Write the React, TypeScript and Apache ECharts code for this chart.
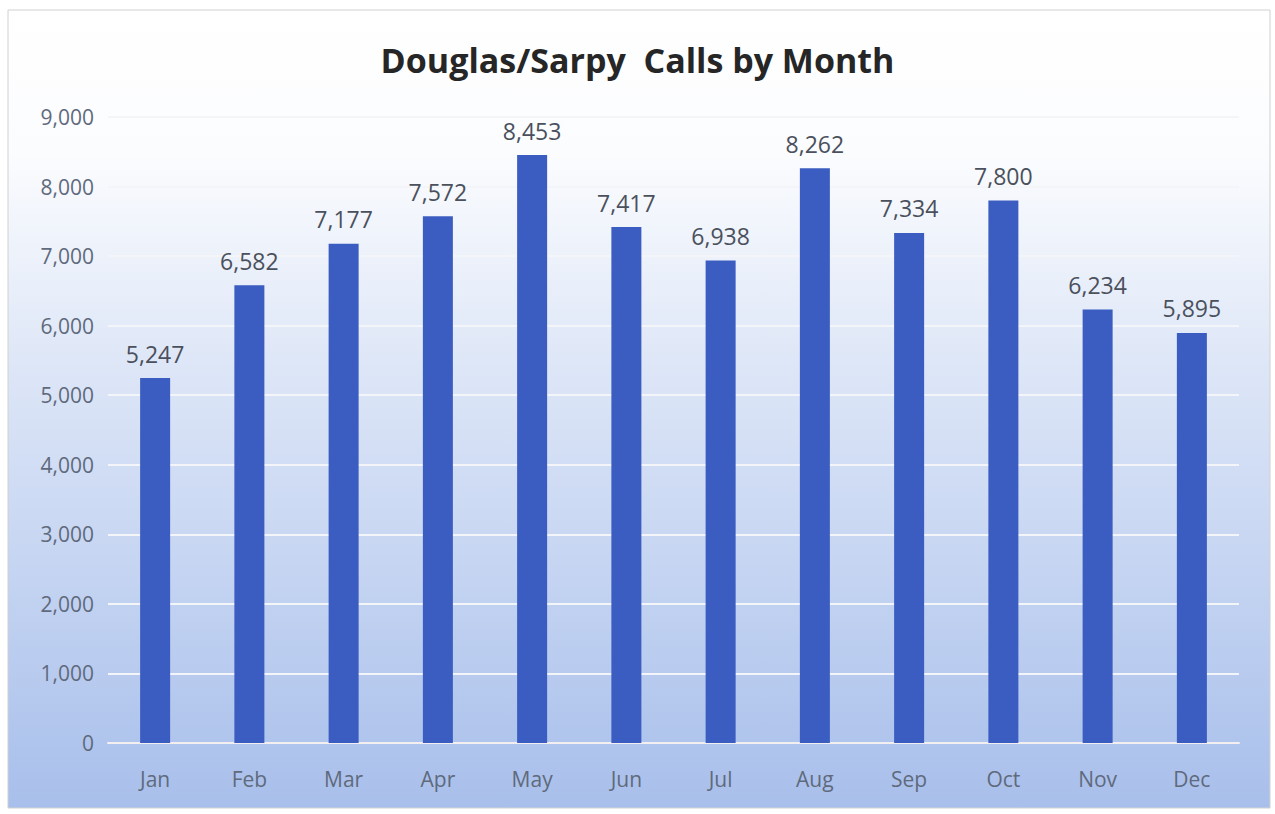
import React, { useEffect, useRef } from "react";
import * as echarts from "echarts";

const months = ["Jan", "Feb", "Mar", "Apr", "May", "Jun", "Jul", "Aug", "Sep", "Oct", "Nov", "Dec"];
const calls = [5247, 6582, 7177, 7572, 8453, 7417, 6938, 8262, 7334, 7800, 6234, 5895];
const title = "Douglas/Sarpy  Calls by Month";

export default function App() {
  const ref = useRef<HTMLDivElement>(null);
  useEffect(() => {
    const chart = echarts.init(ref.current!, null, { renderer: "svg" });
    chart.setOption({
      animation: false,
      backgroundColor: "#ffffff",
      graphic: [
        {
          type: "rect",
          z: -10,
          shape: { x: 8, y: 10, width: 1262, height: 798 },
          style: {
            fill: new echarts.graphic.LinearGradient(0, 0, 0, 1, [
              { offset: 0, color: "#ffffff" },
              { offset: 0.18, color: "#fbfcfe" },
              { offset: 0.45, color: "#dde6f7" },
              { offset: 1, color: "#a8bfeb" },
            ]),
            stroke: "#d0d0d0",
            lineWidth: 1,
          },
        },
      ],
      title: {
        text: title,
        left: "center",
        top: 38,
        textStyle: {
          fontFamily: "Open Sans",
          fontWeight: "bold",
          fontSize: 34,
          color: "#262626",
        },
      },
      grid: { left: 108, right: 36, top: 117, bottom: 71, containLabel: false },
      xAxis: {
        type: "category",
        data: months,
        axisLine: { lineStyle: { color: "#f3eef0", width: 2 } },
        axisTick: { show: false },
        axisLabel: { color: "#5f6a7c", fontSize: 21, fontFamily: "Open Sans", margin: 25 },
      },
      yAxis: {
        type: "value",
        min: 0,
        max: 9000,
        interval: 1000,
        axisLine: { show: false },
        axisTick: { show: false },
        splitLine: { lineStyle: { color: "#f4f5f8", width: 2 } },
        axisLabel: {
          color: "#5f6a7c",
          fontSize: 21,
          fontFamily: "Open Sans",
          margin: 14,
          formatter: (v: number) => v.toLocaleString("en-US"),
        },
      },
      series: [
        {
          type: "bar",
          data: calls,
          barWidth: 30,
          itemStyle: { color: "#3b5cc0" },
          label: {
            show: true,
            position: "top",
            distance: 13,
            color: "#4a505c",
            fontSize: 23,
            fontFamily: "Open Sans",
            formatter: (p: any) => Number(p.value).toLocaleString("en-US"),
          },
        },
      ],
    });
    return () => chart.dispose();
  }, []);
  return (
    <div
      ref={ref}
      style={{ position: "fixed", left: 0, top: 0, width: 1275, height: 814 }}
    />
  );
}
